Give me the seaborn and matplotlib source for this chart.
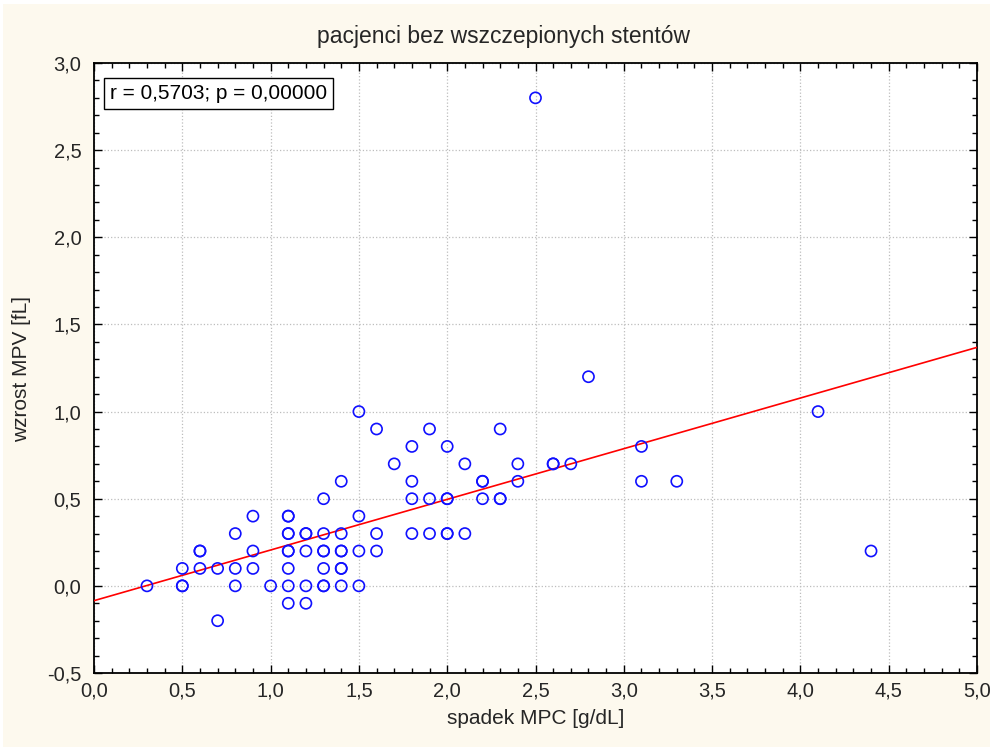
import matplotlib
matplotlib.use("Agg")
import matplotlib.pyplot as plt
from matplotlib.ticker import MultipleLocator, FuncFormatter
from matplotlib.patches import Rectangle
import seaborn as sns
import pandas as pd

# data
spadek_mpc = [0.3, 0.5, 0.5, 0.5, 0.6, 0.6, 0.6, 0.7, 0.7, 0.8, 0.8, 0.8,
              0.9, 0.9, 0.9, 1.0,
              1.1, 1.1, 1.1, 1.1, 1.1, 1.1, 1.1, 1.1, 1.1,
              1.2, 1.2, 1.2, 1.2, 1.2,
              1.3, 1.3, 1.3, 1.3, 1.3, 1.3, 1.3,
              1.4, 1.4, 1.4, 1.4, 1.4, 1.4, 1.4,
              1.5, 1.5, 1.5, 1.5, 1.6, 1.6, 1.6, 1.7,
              1.8, 1.8, 1.8, 1.8, 1.9, 1.9, 1.9,
              2.0, 2.0, 2.0, 2.0, 2.0, 2.1, 2.1,
              2.2, 2.2, 2.2, 2.3, 2.3, 2.3, 2.4, 2.4,
              2.5, 2.6, 2.6, 2.7, 2.8, 3.1, 3.1, 3.3, 4.1, 4.4]
wzrost_mpv = [0.0, 0.1, 0.0, 0.0, 0.2, 0.2, 0.1, 0.1, -0.2, 0.3, 0.1, 0.0,
              0.4, 0.2, 0.1, 0.0,
              0.4, 0.4, 0.3, 0.3, 0.2, 0.2, 0.1, 0.0, -0.1,
              0.3, 0.3, 0.2, 0.0, -0.1,
              0.5, 0.3, 0.2, 0.2, 0.1, 0.0, 0.0,
              0.6, 0.3, 0.2, 0.2, 0.1, 0.1, 0.0,
              1.0, 0.4, 0.2, 0.0, 0.9, 0.3, 0.2, 0.7,
              0.8, 0.6, 0.5, 0.3, 0.9, 0.5, 0.3,
              0.8, 0.5, 0.5, 0.3, 0.3, 0.7, 0.3,
              0.6, 0.6, 0.5, 0.9, 0.5, 0.5, 0.7, 0.6,
              2.8, 0.7, 0.7, 0.7, 1.2, 0.8, 0.6, 0.6, 1.0, 0.2]
x_ticks = [0.0, 0.5, 1.0, 1.5, 2.0, 2.5, 3.0, 3.5, 4.0, 4.5, 5.0]
y_ticks = [-0.5, 0.0, 0.5, 1.0, 1.5, 2.0, 2.5, 3.0]
title = "pacjenci bez wszczepionych stentów"
x_label = "spadek MPC [g/dL]"
y_label = "wzrost MPV [fL]"
stat_text = "r = 0,5703; p = 0,00000"

df = pd.DataFrame({"x": spadek_mpc, "y": wzrost_mpv})

sns.set_theme(style="white")
plt.rcParams["font.family"] = ["Liberation Sans", "DejaVu Sans"]

cream = "#FDF9EE"
fig = plt.figure(figsize=(9.9, 7.47), dpi=100, facecolor="white")
fig.patches.append(Rectangle((3 / 990, 0), 1, 1 - 4 / 747, transform=fig.transFigure,
                             facecolor=cream, edgecolor="none", zorder=-10))
ax = fig.add_axes([94 / 990, 1 - 673 / 747, 883 / 990, 610 / 747])
ax.set_facecolor("white")

ax.set_xlim(x_ticks[0], x_ticks[-1])
ax.set_ylim(y_ticks[0], y_ticks[-1])

sns.regplot(data=df, x="x", y="y", ax=ax, scatter=False, ci=None, truncate=False,
            line_kws=dict(color="#FF0000", lw=1.2, zorder=3))
sns.scatterplot(data=df, x="x", y="y", ax=ax, marker="o", s=64,
                facecolor="none", edgecolor="#1010FF", linewidth=1.2, zorder=4)

ax.set_xticks(x_ticks)
ax.set_yticks(y_ticks)
ax.xaxis.set_minor_locator(MultipleLocator(0.1))
ax.yaxis.set_minor_locator(MultipleLocator(0.1))
fmt = FuncFormatter(lambda v, p: f"{v:.1f}".replace(".", ","))
ax.xaxis.set_major_formatter(fmt)
ax.yaxis.set_major_formatter(fmt)
ax.tick_params(which="both", direction="in", top=True, right=True,
               bottom=True, left=True, color="black")
ax.tick_params(which="major", length=6, width=1.0, labelsize=14.5, pad=6)
ax.tick_params(which="minor", length=3.5, width=1.0)
ax.tick_params(axis="y", which="major", pad=9)
ax.grid(True, which="major", color="#BDBDBD", linestyle=":", linewidth=0.9)
ax.set_axisbelow(True)
for s in ax.spines.values():
    s.set_color("black")
    s.set_linewidth(1.3)

ax.set_xlabel("")
ax.set_ylabel("")
fig.text(536 / 990, 1 - 718 / 747, x_label, ha="center", va="center", fontsize=15)
fig.text(22 / 990, 1 - 369 / 747, y_label, ha="center", va="center", fontsize=15,
         rotation=90)
fig.text(503 / 990, 1 - 36 / 747, title, ha="center", va="center", fontsize=16.5)

ax.text(0.018, 0.950, stat_text, transform=ax.transAxes, ha="left", va="center",
        fontsize=15, color="black",
        bbox=dict(boxstyle="square,pad=0.3", facecolor="white", edgecolor="black",
                  linewidth=1.0))

fig.savefig("out.png", dpi=100, facecolor=fig.get_facecolor())
